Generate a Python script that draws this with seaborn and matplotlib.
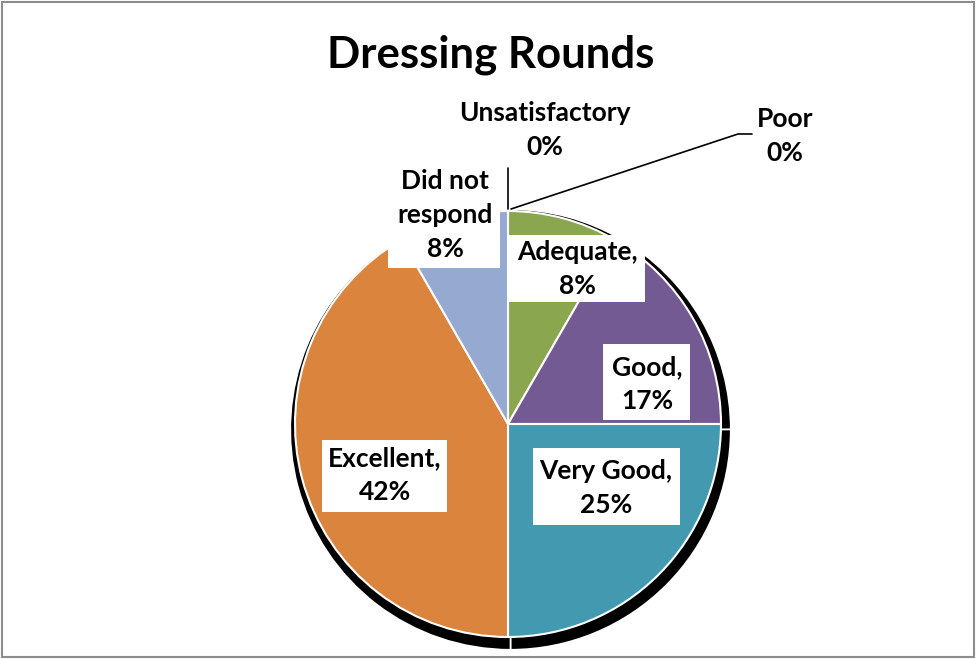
import matplotlib
matplotlib.use("Agg")
import matplotlib.pyplot as plt
import seaborn as sns
import numpy as np
from matplotlib.patches import Rectangle

# ---- data ----
categories = ["Unsatisfactory", "Poor", "Adequate", "Good", "Very Good", "Excellent", "Did not respond"]
counts = [0, 0, 1, 2, 3, 5, 1]
percent_labels = ["0%", "0%", "8%", "17%", "25%", "42%", "8%"]
title = "Dressing Rounds"

# ---- style ----
sns.set_theme(style="white")
plt.rcParams['font.family'] = ['Lato', 'DejaVu Sans']
colors = sns.color_palette(["#8AA64E", "#8AA64E", "#8AA64E", "#735A92", "#4299B0", "#DB843D", "#95A9D1"])

W, H = 976, 659
fig = plt.figure(figsize=(W / 100, H / 100), dpi=100)
ax = fig.add_axes([0, 0, 1, 1])

cx, cy, R = 508, H - 424, 213

# shadow pie
ax.pie(counts, startangle=90, counterclock=False, center=(cx + 2.5, cy - 5.5), radius=R * 1.034,
       colors=["black"] * len(counts), wedgeprops=dict(edgecolor="white", linewidth=1.2), frame=True)
# main pie
ax.pie(counts, startangle=90, counterclock=False, center=(cx, cy), radius=R,
       colors=colors, wedgeprops=dict(edgecolor="white", linewidth=1.5), frame=True)
ax.set_xlim(0, W)
ax.set_ylim(0, H)
ax.set_aspect("equal")
ax.axis("off")

# label layout (pixel coords from the top-left)
label_text = [
    f"{categories[0]}\n{percent_labels[0]}",
    f"{categories[1]}\n{percent_labels[1]}",
    f"{categories[2]},\n{percent_labels[2]}",
    f"{categories[3]},\n{percent_labels[3]}",
    f"{categories[4]},\n{percent_labels[4]}",
    f"{categories[5]},\n{percent_labels[5]}",
    "Did not\nrespond\n" + percent_labels[6],
]
label_pos = [(545, 130), (785, 136), (577, 269), (647, 384), (606, 488), (385, 475), (445, 215)]
label_box = [None, None, (508, 235, 645, 302), (603, 344, 690, 420), (533, 448, 680, 525),
             (322, 440, 447, 512), (388, 165, 500, 268)]

for txt, (x, y), box in zip(label_text, label_pos, label_box):
    if box is not None:
        x0, y0, x1, y1 = box
        ax.add_patch(Rectangle((x0, H - y1), x1 - x0, y1 - y0, facecolor="white", edgecolor="none", zorder=3))
    ax.text(x, H - y, txt, ha="center", va="center", fontsize=19, fontweight="bold",
            color="black", linespacing=1.48, zorder=4)

# leader lines for zero slices
ax.plot([508, 508], [H - 168, H - 209], color="black", lw=1.2, zorder=5)
ax.plot([511, 738, 752], [H - 209, H - 134, H - 134], color="black", lw=1.2, zorder=5)

# title
ax.text(491, H - 55, title, ha="center", va="center", fontsize=31.5, fontweight="bold", color="black")

# chart border
fig.patches.append(Rectangle((2 / W, 2 / H), (W - 4) / W, (H - 4) / H, transform=fig.transFigure,
                             facecolor="none", edgecolor="#8c8c8c", linewidth=1.5))

fig.savefig("out.png", dpi=100)
